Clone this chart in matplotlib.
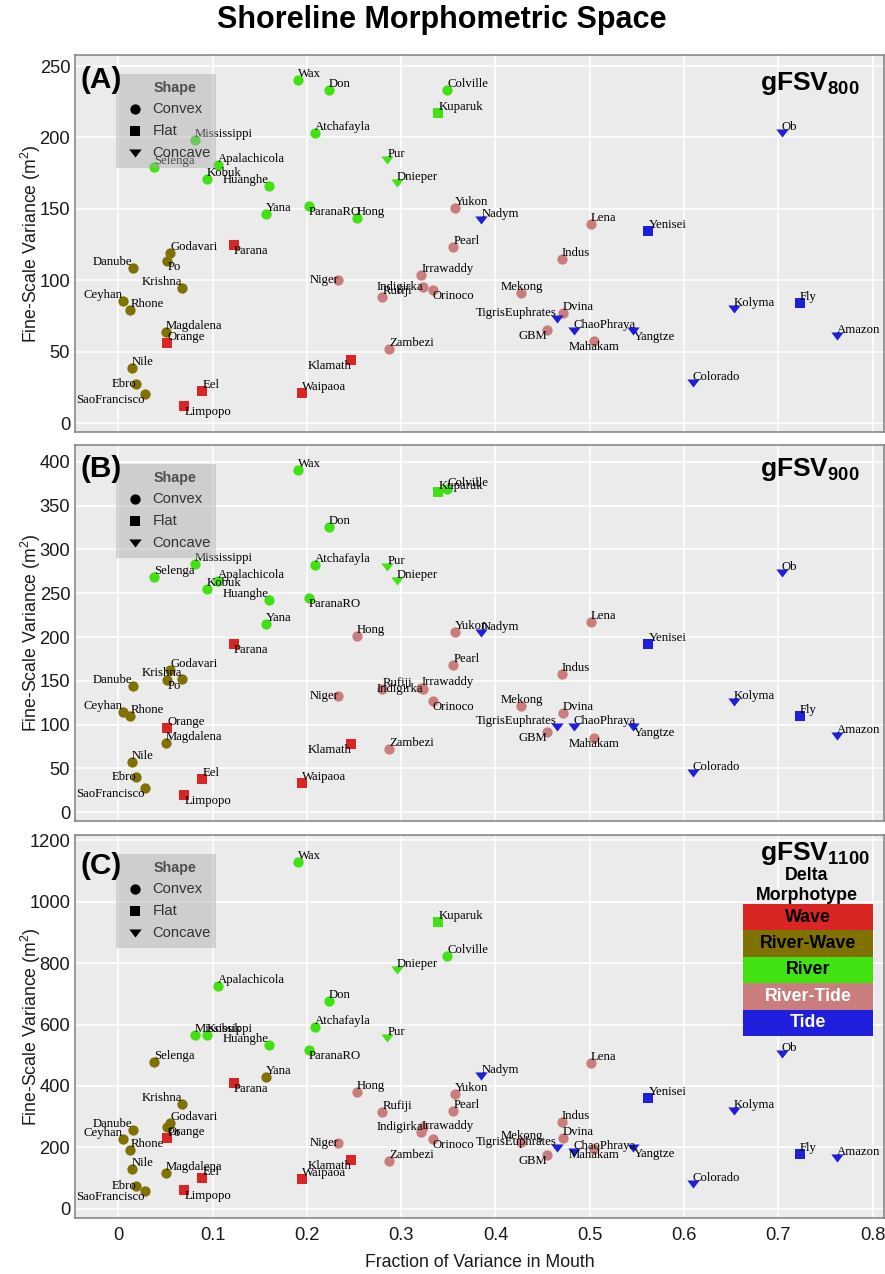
"""Shoreline morphometric space: fine-scale variance vs. fraction of variance in the mouth."""

import matplotlib

matplotlib.use("Agg")
import matplotlib.pyplot as plt
from matplotlib.patches import Rectangle
from matplotlib.transforms import Affine2D

plt.rcParams["font.family"] = "Liberation Sans"
plt.rcParams["mathtext.fontset"] = "custom"
plt.rcParams["mathtext.rm"] = "Liberation Sans"
plt.rcParams["mathtext.bf"] = "Liberation Sans:bold"

# ---------------------------------------------------------------- data
deltas = [
    "Wax", "Don", "Atchafayla", "Mississippi", "Selenga", "Apalachicola", "Kobuk",
    "Huanghe", "Yana", "ParanaRO", "Hong", "Colville", "Kuparuk", "Pur", "Dnieper",
    "Parana", "Godavari", "Po", "Danube", "Krishna", "Ceyhan", "Rhone", "Magdalena",
    "Orange", "Nile", "Ebro", "SaoFrancisco", "Eel", "Limpopo", "Waipaoa", "Klamath",
    "Niger", "Rufiji", "Irrawaddy", "Indigirka", "Orinoco", "Zambezi", "Pearl",
    "Yukon", "Nadym", "Lena", "Yenisei", "Indus", "Mekong", "Dvina",
    "TigrisEuphrates", "GBM", "ChaoPhraya", "Mahakam", "Yangtze", "Colorado",
    "Kolyma", "Fly", "Amazon", "Ob",
]

frac_mouth = [
    0.1910, 0.2236, 0.2090, 0.0814, 0.0382, 0.1058, 0.0938,
    0.1599, 0.1564, 0.2020, 0.2529, 0.3488, 0.3395, 0.2854, 0.2954,
    0.1228, 0.0549, 0.0520, 0.0153, 0.0676, 0.0047, 0.0127, 0.0503,
    0.0520, 0.0145, 0.0188, 0.0283, 0.0891, 0.0700, 0.1946, 0.2472,
    0.2334, 0.2801, 0.3212, 0.3230, 0.3336, 0.2875, 0.3554,
    0.3569, 0.3851, 0.5012, 0.5623, 0.4704, 0.4276, 0.4718,
    0.4651, 0.4545, 0.4828, 0.5047, 0.5464, 0.6094,
    0.6525, 0.7230, 0.7622, 0.7039,
]

fsv_800 = [
    240, 233, 203, 198, 179.5, 180.5, 171,
    166, 146.5, 152, 143.5, 233.5, 217, 184, 168,
    125, 119, 113.5, 108.7, 94.7, 85.3, 79.3, 64,
    56.4, 38.7, 27.5, 20.5, 22.4, 12, 21.4, 44.3,
    100.3, 88.6, 104, 95.6, 93.3, 51.8, 123,
    150.4, 142.2, 139.4, 134.8, 114.7, 91, 77.4,
    72.8, 65.3, 64.8, 57.4, 64.8, 28,
    79.8, 84, 61.1, 203,
]

fsv_900 = [
    390, 326, 282, 283, 268, 263.5, 255,
    242.5, 214.5, 245, 201.5, 369, 365, 279.5, 264,
    192, 162, 151, 144, 152.4, 114.4, 109.8, 79.4,
    96, 57.7, 40.6, 28, 38.3, 19.4, 33, 78,
    133, 140.6, 142, 141, 126.6, 72.6, 168,
    205.3, 205, 216.7, 191.6, 157.8, 121.6, 113.6,
    97.6, 91.2, 97.6, 85.1, 97.6, 44.5,
    125.8, 109.8, 87, 273.3,
]

fsv_1100 = [
    1130, 676, 591, 566, 479, 726, 566,
    534, 430, 517, 381.5, 824, 933, 555, 778,
    409, 281, 268, 256, 342.5, 228.7, 192, 118,
    230, 130, 76, 57.4, 100, 62, 97.6, 160,
    214.6, 316.5, 249, 268, 227.6, 155, 320,
    375, 433.6, 476, 360, 282, 217, 231,
    197.4, 175.6, 186.4, 194, 197.4, 82.3,
    318.7, 179, 167, 505,
]

shape = [
    "Convex", "Convex", "Convex", "Convex", "Convex", "Convex", "Convex",
    "Convex", "Convex", "Convex", "Convex", "Convex", "Flat", "Concave", "Concave",
    "Flat", "Convex", "Convex", "Convex", "Convex", "Convex", "Convex", "Convex",
    "Flat", "Convex", "Convex", "Convex", "Flat", "Flat", "Flat", "Flat",
    "Convex", "Convex", "Convex", "Convex", "Convex", "Convex", "Convex",
    "Convex", "Concave", "Convex", "Flat", "Convex", "Convex", "Convex",
    "Concave", "Convex", "Concave", "Convex", "Concave", "Concave",
    "Concave", "Flat", "Concave", "Concave",
]

# delta morphotype codes: W wave, RW river-wave, R river, RT river-tide, T tide
morph_800 = [
    "R", "R", "R", "R", "R", "R", "R",
    "R", "R", "R", "R", "R", "R", "R", "R",
    "W", "RW", "RW", "RW", "RW", "RW", "RW", "RW",
    "W", "RW", "RW", "RW", "W", "W", "W", "W",
    "RT", "RT", "RT", "RT", "RT", "RT", "RT",
    "RT", "T", "RT", "T", "RT", "RT", "RT",
    "T", "RT", "T", "RT", "T", "T",
    "T", "T", "T", "T",
]
morph_900 = list(morph_800)
morph_900[deltas.index("Hong")] = "RT"
morph_1100 = list(morph_900)
morph_1100[deltas.index("Selenga")] = "RW"
morph_1100[deltas.index("Yana")] = "RW"

morph_codes = ["W", "RW", "R", "RT", "T"]
morph_labels = ["Wave", "River-Wave", "River", "River-Tide", "Tide"]
shape_names = ["Convex", "Flat", "Concave"]

# ---------------------------------------------------------------- style
MORPH_COLORS = {"W": "#DA2525", "RW": "#7F7200", "R": "#40E311",
                "RT": "#C97D7D", "T": "#1E1EDC"}
MORPH_TEXT = {"W": "black", "RW": "black", "R": "black", "RT": "white", "T": "white"}
TRIANGLE = [(-1.0, 0.65), (1.0, 0.65), (0.0, -0.65), (-1.0, 0.65)]
SHAPE_MARKERS = {"Convex": ("o", 55), "Flat": ("s", 55), "Concave": (TRIANGLE, 80)}

# label alignment (ha, va) relative to the point; default is left/bottom
LABEL_ALIGN = {
    "Danube": ("right", "bottom"), "Ceyhan": ("right", "bottom"),
    "Krishna": ("right", "bottom"), "Huanghe": ("right", "bottom"),
    "TigrisEuphrates": ("right", "bottom"),
    "Niger": ("right", "center"), "Indigirka": ("right", "center"),
    "Ebro": ("right", "center"),
    "Klamath": ("right", "top"), "GBM": ("right", "top"),
    "SaoFrancisco": ("right", "top"),
    "Mahakam": ("center", "top"), "Mekong": ("center", "bottom"),
    "Orinoco": ("left", "top"), "Yangtze": ("left", "top"),
    "Limpopo": ("left", "top"), "Parana": ("left", "top"),
    "Po": ("left", "top"), "ParanaRO": ("left", "top"),
}

FIG_W, FIG_H, DPI = 885, 1274, 100
XLIM = (-0.0459, 0.8124)

# left, top, right, bottom in pixels; ylim; yticks; letter; threshold;
# letter centre dy; gFSV baseline dy
PANELS = [
    ((75, 55.0, 884.3, 431.7), fsv_800, morph_800, (-5.9, 257.7),
     range(0, 251, 50), "(A)", "800", 25, 35),
    ((75, 444.7, 884.3, 821.0), fsv_900, morph_900, (-9.9, 419.4),
     range(0, 401, 50), "(B)", "900", 24.7, 31.7),
    ((75, 835.0, 884.3, 1218.0), fsv_1100, morph_1100, (-29.3, 1216.3),
     range(0, 1201, 200), "(C)", "1100", 30.5, 25),
]


def draw_shape_key(ax, top_px, left, top):
    """Semi-transparent 'Shape' key in the upper left of a panel."""
    box = Rectangle((left + 41, top + 19 + 94), 100, -94, transform=top_px,
                    facecolor="#ababab", alpha=0.45, edgecolor="none",
                    zorder=6, clip_on=False)
    ax.add_patch(box)
    ax.text(left + 79, top + 33, "Shape", transform=top_px, fontsize=10.3,
            fontweight="bold", color="#4d4d4d", ha="left", va="center", zorder=7)
    for i, name in enumerate(shape_names):
        marker, size = SHAPE_MARKERS[name]
        row_y = top + 54.3 + i * 22.0
        ax.scatter([left + 59.7], [row_y], transform=top_px, marker=marker,
                   s=size, color="black", linewidths=0, zorder=7, clip_on=False)
        ax.text(left + 77.7, row_y, name, transform=top_px, fontsize=10.6,
                color="#333333", ha="left", va="center", zorder=7)


def draw_morph_key(ax, top_px):
    """Colour key for the delta morphotypes (bottom panel only)."""
    ax.text(806.7, 875.7, "Delta", transform=top_px, fontsize=12.8,
            fontweight="bold", ha="center", va="center", zorder=7)
    ax.text(806.7, 895.0, "Morphotype", transform=top_px, fontsize=12.8,
            fontweight="bold", ha="center", va="center", zorder=7)
    row_h = 26.4
    for i, (code, label) in enumerate(zip(morph_codes, morph_labels)):
        y0 = 904 + i * row_h
        ax.add_patch(Rectangle((743, y0 + row_h), 130, -row_h, transform=top_px,
                               facecolor=MORPH_COLORS[code], edgecolor="none",
                               zorder=6, clip_on=False))
        ax.text(808, y0 + row_h / 2, label, transform=top_px, fontsize=12.8,
                fontweight="bold", color=MORPH_TEXT[code], ha="center",
                va="center", zorder=7)


def main():
    fig = plt.figure(figsize=(FIG_W / DPI, FIG_H / DPI), dpi=DPI)
    # pixel coordinates measured from the top-left corner of the figure
    top_px = (Affine2D().scale(1 / DPI, -1 / DPI).translate(0, FIG_H / DPI)
              + fig.dpi_scale_trans)

    fig.text(441.5 / FIG_W, 1 - 20 / FIG_H, "Shoreline Morphometric Space",
             ha="center", va="center", fontsize=22, fontweight="bold")

    for k, (box, values, morph, ylim, yticks, letter, thresh, letter_dy,
            gfsv_dy) in enumerate(PANELS):
        left, top, right, bottom = box
        ax = fig.add_axes([left / FIG_W, 1 - bottom / FIG_H,
                           (right - left) / FIG_W, (bottom - top) / FIG_H])
        ax.set_facecolor("#EBEBEB")
        ax.grid(True, color="white", linewidth=1.1)
        ax.set_axisbelow(True)
        for spine in ax.spines.values():
            spine.set_color("#7f7f7f")
            spine.set_linewidth(1.1)

        for code in morph_codes:
            for name in shape_names:
                idx = [i for i in range(len(deltas))
                       if morph[i] == code and shape[i] == name]
                if not idx:
                    continue
                marker, size = SHAPE_MARKERS[name]
                ax.scatter([frac_mouth[i] for i in idx], [values[i] for i in idx],
                           marker=marker, s=size, color=MORPH_COLORS[code],
                           linewidths=0, zorder=2)

        for i, name in enumerate(deltas):
            ha, va = LABEL_ALIGN.get(name, ("left", "bottom"))
            ax.text(frac_mouth[i], values[i], name, ha=ha, va=va,
                    fontsize=9.2, family="Liberation Serif", zorder=3)

        ax.set_xlim(*XLIM)
        ax.set_ylim(*ylim)
        ax.set_xticks([0, 0.1, 0.2, 0.3, 0.4, 0.5, 0.6, 0.7, 0.8])
        ax.set_yticks(list(yticks))
        ax.tick_params(axis="both", length=0, labelsize=13.2, labelcolor="#1a1a1a")
        ax.tick_params(axis="y", pad=3.5)
        ax.tick_params(axis="x", pad=6.5)
        if k < 2:
            ax.tick_params(axis="x", labelbottom=False)
        else:
            ax.set_xticklabels(["0", "0.1", "0.2", "0.3", "0.4", "0.5", "0.6",
                                "0.7", "0.8"])
            ax.set_xlabel("Fraction of Variance in Mouth", fontsize=12.7,
                          color="#1a1a1a")
            ax.xaxis.set_label_coords(0.5, -0.095)

        ax.set_ylabel(r"Fine-Scale Variance (m$^{\mathrm{2}}$)", fontsize=12.7,
                      color="#1a1a1a")
        ax.yaxis.set_label_coords(-0.040, 0.5)

        ax.text(left + 5, top + letter_dy, letter, transform=top_px, fontsize=21.5,
                fontweight="bold", ha="left", va="center", zorder=7)
        ax.text(760, top + gfsv_dy, r"gFSV$_{\mathbf{%s}}$" % thresh,
                transform=top_px, fontsize=19, fontweight="bold", ha="left",
                va="baseline", zorder=7)

        draw_shape_key(ax, top_px, left, top)
        if k == 2:
            draw_morph_key(ax, top_px)

    fig.savefig("out.png", dpi=DPI)


if __name__ == "__main__":
    main()
